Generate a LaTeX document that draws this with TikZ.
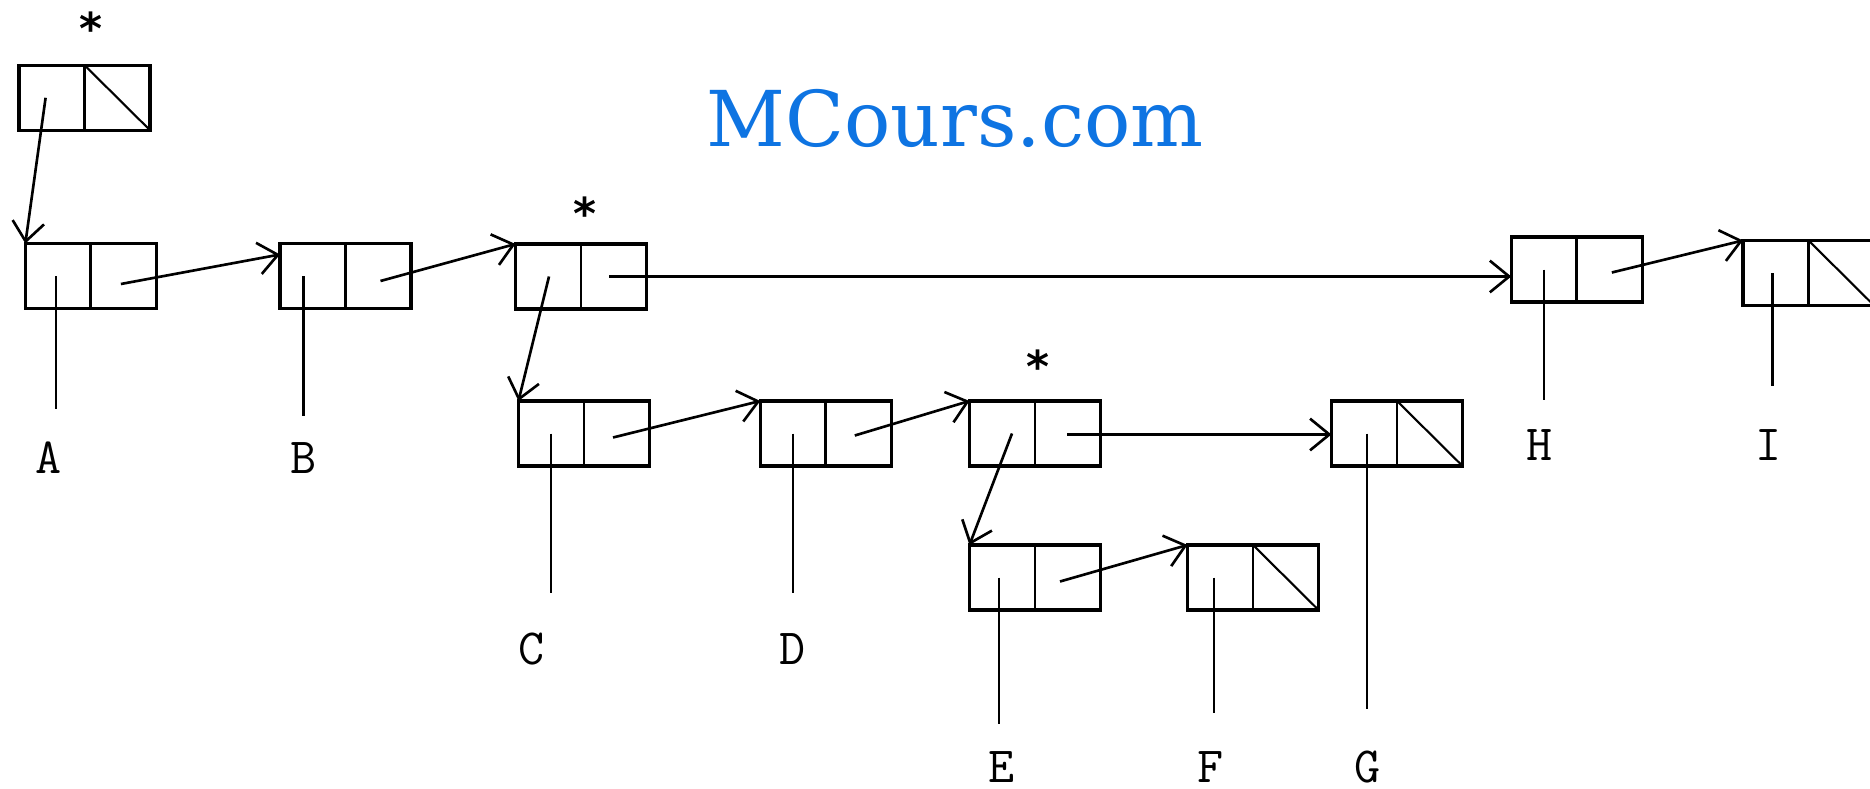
\documentclass[tikz,border=0pt]{standalone}
\usepackage{fontspec}
\newfontfamily\markfont{DejaVu Serif}
\newfontfamily\symfont{DejaVu Sans}
\usetikzlibrary{arrows.meta,calc}
\definecolor{mcblue}{RGB}{14,116,226}
\tikzset{
    cell/.style={draw=black, line width=1pt, minimum width=1.31cm, minimum height=0.65cm,
        inner sep=0pt, outer sep=0pt,
        path picture={\draw[line width=0.8pt] (path picture bounding box.north) -- (path picture bounding box.south);}},
    nilcell/.style={cell,
        path picture={\draw[line width=0.8pt] (path picture bounding box.north) -- (path picture bounding box.south);
            \draw[line width=0.6pt] (path picture bounding box.north) -- (path picture bounding box.south east);}},
    ptr/.style={line width=0.75pt, -{Straight Barb[length=5.5pt,width=9pt]}},
    stem/.style={line width=0.6pt},
    atom/.style={font=\ttfamily\fontsize{14.4}{14.4}\selectfont, anchor=base, inner sep=0pt},
    starlbl/.style={font=\symfont\bfseries\fontsize{12.5}{12.5}\selectfont, anchor=north, inner sep=0pt}
}
\begin{document}
\begin{tikzpicture}[x=0.01cm, y=-0.01cm]
    \useasboundingbox (0,0) rectangle (1870,788);
    % watermark
    \node[font=\markfont\fontsize{21.9}{21.9}\selectfont, text=mcblue, anchor=base, inner sep=0pt] (wm) at (955,147) {MCours.com};

    % cells
    \node[nilcell] (head) at (84.6,97.8) {};
    \node[cell] (cA) at (90.9,276) {};
    \node[cell] (cB) at (345.5,276) {};
    \node[cell] (sub1) at (581,276.5) {};
    \node[cell] (cH) at (1576.8,269.5) {};
    \node[nilcell] (cI) at (1808.5,273) {};
    \node[cell] (cC) at (584,433.5) {};
    \node[cell] (cD) at (825.8,433.5) {};
    \node[cell] (sub2) at (1035,433.5) {};
    \node[nilcell] (cG) at (1397,433.5) {};
    \node[cell] (cE) at (1035,577.5) {};
    \node[nilcell] (cF) at (1253,577.5) {};

    % stars over the sublists
    \node[starlbl] (st0) at (91,11) {*};
    \node[starlbl] (st1) at (585,196) {*};
    \node[starlbl] (st2) at (1037.6,349) {*};

    % car / cdr points
    \foreach \c/\ax/\dx/\dy in {head/-39/0/0, cA/-35/30/8, cB/-42/35/5, sub1/-32/28/0,
        cC/-33/29/4, cD/-33/29/2, sub2/-23/32/1, cE/-36/25/4, cF/-39/0/0,
        cG/-30/0/0, cH/-33/35/3, cI/-36/0/0}{
        \coordinate (\c-car) at ($(\c)+(\ax,0)$);
        \coordinate (\c-cdr) at ($(\c)+(\dx,\dy)$);
    }

    % pointers
    \draw[ptr] (head-car) -- (cA.north west);
    \draw[ptr] (cA-cdr) -- ($(cB.north west)+(0,11)$);
    \draw[ptr] (cB-cdr) -- (sub1.north west);
    \draw[ptr] (sub1-car) -- (cC.north west);
    \draw[ptr] (sub1-cdr) -- (sub1-cdr -| cH.west);
    \draw[ptr] (cC-cdr) -- (cD.north west);
    \draw[ptr] (cD-cdr) -- (sub2.north west);
    \draw[ptr] (sub2-car) -- (cE.north west);
    \draw[ptr] (sub2-cdr) -- (sub2-cdr -| cG.west);
    \draw[ptr] (cE-cdr) -- (cF.north west);
    \draw[ptr] (cH-cdr) -- (cI.north west);

    % atoms
    \foreach \c/\l/\x/\y/\g in {cA/A/48.5/473/9.1, cB/B/303.6/473/7.1, cC/C/532/664/11.1,
        cD/D/793/664/11.1, cE/E/1002/782/7.4, cF/F/1211/782/10.5, cG/G/1368/782/11.7,
        cH/H/1540/460/8, cI/I/1769/460/12}{
        \node[atom] (l\l) at (\x,\y) {\l};
        \draw[stem, shorten >=\g pt] (\c-car) -- (\c-car |- l\l.north);
    }
\end{tikzpicture}
\end{document}
